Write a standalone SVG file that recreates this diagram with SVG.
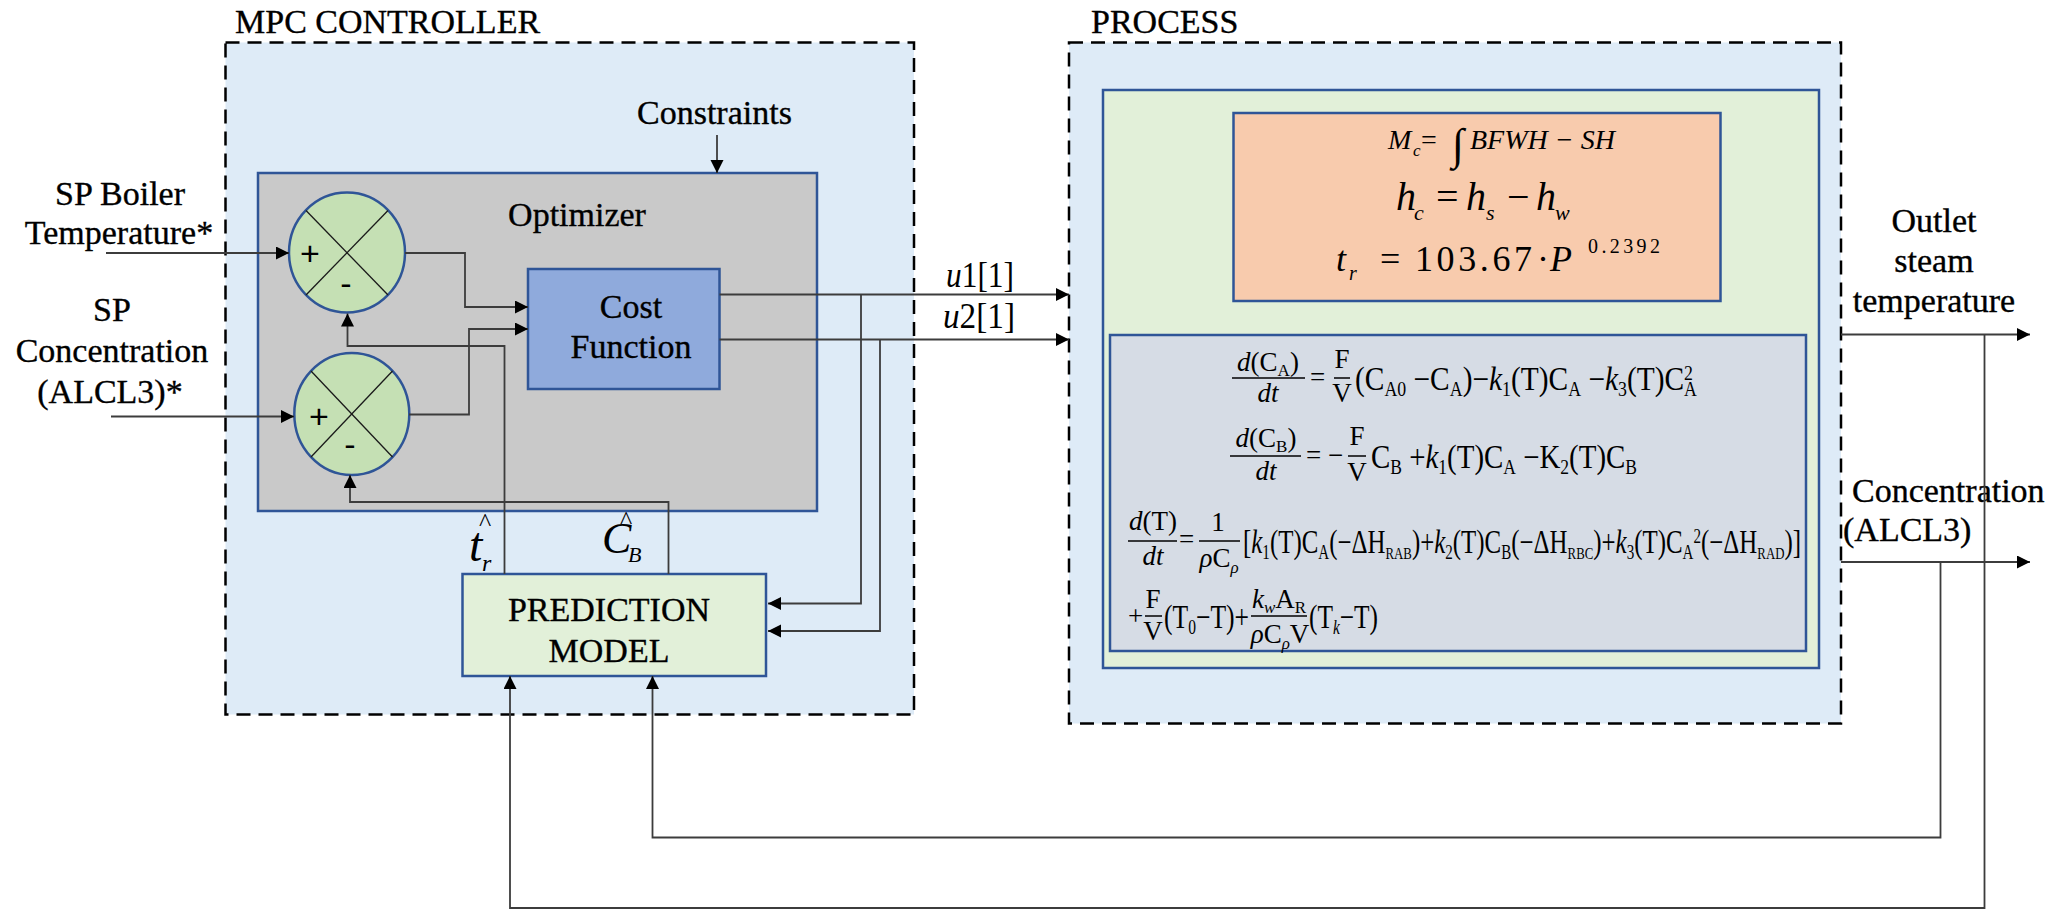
<svg xmlns="http://www.w3.org/2000/svg" width="2062" height="910" viewBox="0 0 2062 910" font-family="'Liberation Serif', 'Times New Roman', serif">
<defs>
<marker id="arr" markerUnits="userSpaceOnUse" markerWidth="14" markerHeight="14" refX="13" refY="6.5" orient="auto"><path d="M0,0 L13,6.5 L0,13 z" fill="#000"/></marker>
<style>
text{font-family:"Liberation Serif","Times New Roman",serif;fill:#000}
.lbl{font-size:34px;stroke:#000;stroke-width:0.35}
.ctr{text-anchor:middle}
.it{font-style:italic}
.up{font-style:normal}
.dash{fill:#deebf7;stroke:#000;stroke-width:2.5;stroke-dasharray:14 8}
.box{stroke:#2f5597;stroke-width:2.5}
.sum{fill:#c5e0b4;stroke:#2f5597;stroke-width:2.5}
.x{stroke:#1a1a1a;stroke-width:1.3}
text.sg{font-family:"Liberation Sans",Arial,sans-serif;font-size:34px;text-anchor:middle}
.conn{fill:none;stroke:#3c3c3c;stroke-width:1.8}
.bar{stroke:#000;stroke-width:1.5}
.eq{font-size:33px}
.fr{font-size:27px}
</style>
</defs>
<rect width="2062" height="910" fill="#fff"/>

<g id="mpc-controller">
<rect class="dash" x="225.5" y="42.5" width="688.5" height="672"/>
<text class="lbl" x="235" y="33" font-size="33">MPC CONTROLLER</text>
</g>

<g id="optimizer">
<rect class="box" x="258" y="173" width="559" height="338" fill="#c9c9c9"/>
<text class="lbl ctr" x="577" y="226">Optimizer</text>
</g>

<g id="constraints">
<text class="lbl" x="637" y="124">Constraints</text>
</g>

<g id="sum1">
<ellipse class="sum" cx="347" cy="252.5" rx="58" ry="60"/>
<line class="x" x1="306" y1="210.5" x2="388" y2="295"/>
<line class="x" x1="388" y1="210.5" x2="306" y2="295"/>
<text class="sg" x="310" y="265">+</text>
<text class="sg" x="346" y="295">-</text>
</g>

<g id="sum2">
<ellipse class="sum" cx="351.8" cy="414" rx="57.5" ry="61"/>
<line class="x" x1="311" y1="371" x2="392.5" y2="457"/>
<line class="x" x1="392.5" y1="371" x2="311" y2="457"/>
<text class="sg" x="319" y="428">+</text>
<text class="sg" x="350" y="456">-</text>
</g>

<g id="sp-boiler">
<text class="lbl ctr" x="120" y="205">SP Boiler</text>
<text class="lbl ctr" x="119" y="244">Temperature*</text>
</g>

<g id="sp-concentration">
<text class="lbl ctr" x="112" y="321">SP</text>
<text class="lbl ctr" x="112" y="362">Concentration</text>
<text class="lbl ctr" x="110" y="403">(ALCL3)*</text>
</g>

<g id="cost-function">
<rect class="box" x="528" y="269" width="191.5" height="120" fill="#8faadc"/>
<text class="lbl ctr" x="631" y="318">Cost</text>
<text class="lbl ctr" x="631" y="358">Function</text>
</g>

<g id="prediction-model">
<rect class="box" x="462.5" y="574" width="303.5" height="102" fill="#e2f0d9"/>
<text class="lbl ctr" x="609" y="621">PREDICTION</text>
<text class="lbl ctr" x="609" y="662">MODEL</text>
</g>

<g id="tr-hat">
<text><tspan x="479" y="531" font-size="26">^</tspan><tspan class="it" x="469" y="561" font-size="48">t</tspan><tspan class="it" x="482" y="571" font-size="24">r</tspan></text>
</g>

<g id="cb-hat">
<text><tspan x="620" y="529" font-size="26">^</tspan><tspan class="it" x="602" y="553" font-size="44">C</tspan><tspan class="it" x="628" y="562" font-size="22">B</tspan></text>
</g>

<g id="u-labels">
<text x="946" y="287" font-size="35" textLength="68" lengthAdjust="spacingAndGlyphs"><tspan class="it">u</tspan>1[1]</text>
<text x="943" y="328" font-size="35" textLength="72" lengthAdjust="spacingAndGlyphs"><tspan class="it">u</tspan>2[1]</text>
</g>

<g id="process">
<rect class="dash" x="1069" y="42.5" width="772" height="681"/>
<text class="lbl" x="1091" y="33" font-size="33">PROCESS</text>
<rect class="box" x="1103" y="90" width="716" height="578" fill="#e2f0d9"/>
</g>

<g id="boiler-equations">
<rect class="box" x="1233.5" y="113" width="487" height="188" fill="#f8cbad"/>
<text class="it" font-size="28"><tspan x="1388" y="149">M</tspan><tspan x="1413" y="156" font-size="17">c</tspan><tspan class="up" x="1421" y="149">=</tspan><tspan class="up" x="1452" y="159" font-size="44">∫</tspan><tspan x="1470" y="149">BFWH − SH</tspan></text>
<text class="it" font-size="40"><tspan x="1396" y="210">h</tspan><tspan x="1414" y="220" font-size="22">c</tspan><tspan class="up" x="1436" y="210">=</tspan><tspan x="1466" y="210">h</tspan><tspan x="1486" y="220" font-size="22">s</tspan><tspan class="up" x="1507" y="210">−</tspan><tspan x="1536" y="210">h</tspan><tspan x="1555" y="220" font-size="22">w</tspan></text>
<text font-size="36"><tspan class="it" x="1336" y="271">t</tspan><tspan class="it" x="1349" y="280" font-size="20">r</tspan><tspan x="1380" y="271">=</tspan><tspan x="1415" y="271" letter-spacing="3.6">103.67</tspan><tspan x="1537" y="271">·</tspan><tspan class="it" x="1550" y="271">P</tspan><tspan x="1588" y="253" font-size="20" letter-spacing="3.4">0.2392</tspan></text>
</g>

<g id="reactor-equations">
<rect class="box" x="1110" y="335" width="696" height="316" fill="#d6dce5"/>
<!-- eq 1 -->
<text class="fr ctr" x="1268" y="371"><tspan class="it">d</tspan>(C<tspan font-size="17" dy="5">A</tspan><tspan dy="-5">)</tspan></text>
<line class="bar" x1="1232" y1="378" x2="1305" y2="378"/>
<text class="fr ctr it" x="1268" y="402">dt</text>
<text class="fr" x="1310" y="386">=</text>
<text class="fr ctr" x="1342" y="368">F</text>
<line class="bar" x1="1334" y1="378" x2="1350" y2="378"/>
<text class="fr ctr" x="1342" y="402">V</text>
<text class="eq" x="1355" y="390" textLength="342" lengthAdjust="spacingAndGlyphs">(C<tspan font-size="20" dy="6">A0</tspan><tspan dy="-6"> −C</tspan><tspan font-size="20" dy="6">A</tspan><tspan dy="-6">)−</tspan><tspan class="it">k</tspan><tspan font-size="20" dy="6">1</tspan><tspan dy="-6">(T)C</tspan><tspan font-size="20" dy="6">A</tspan><tspan dy="-6"> −</tspan><tspan class="it">k</tspan><tspan font-size="20" dy="6">3</tspan><tspan dy="-6">(T)C</tspan><tspan font-size="20" dy="-10">2</tspan><tspan font-size="20" dx="-10" dy="16">A</tspan></text>
<!-- eq 2 -->
<text class="fr ctr" x="1266" y="447"><tspan class="it">d</tspan>(C<tspan font-size="17" dy="5">B</tspan><tspan dy="-5">)</tspan></text>
<line class="bar" x1="1230" y1="456" x2="1301" y2="456"/>
<text class="fr ctr it" x="1266" y="480">dt</text>
<text class="fr" x="1306" y="464">= −</text>
<text class="fr ctr" x="1357" y="445">F</text>
<line class="bar" x1="1348" y1="456" x2="1366" y2="456"/>
<text class="fr ctr" x="1357" y="481">V</text>
<text class="eq" x="1371" y="468" textLength="266" lengthAdjust="spacingAndGlyphs">C<tspan font-size="20" dy="6">B</tspan><tspan dy="-6"> +</tspan><tspan class="it">k</tspan><tspan font-size="20" dy="6">1</tspan><tspan dy="-6">(T)C</tspan><tspan font-size="20" dy="6">A</tspan><tspan dy="-6"> −K</tspan><tspan font-size="20" dy="6">2</tspan><tspan dy="-6">(T)C</tspan><tspan font-size="20" dy="6">B</tspan></text>
<!-- eq 3 -->
<text class="fr ctr" x="1153" y="530"><tspan class="it">d</tspan>(T)</text>
<line class="bar" x1="1128" y1="541" x2="1177" y2="541"/>
<text class="fr ctr it" x="1153" y="565">dt</text>
<text class="fr" x="1179" y="548">=</text>
<text class="fr ctr" x="1218" y="531">1</text>
<line class="bar" x1="1199" y1="541" x2="1240" y2="541"/>
<text class="fr ctr" x="1219" y="567"><tspan class="it">ρ</tspan>C<tspan font-size="17" dy="6" class="it">ρ</tspan></text>
<text class="eq" x="1243" y="553" textLength="558" lengthAdjust="spacingAndGlyphs">[<tspan class="it">k</tspan><tspan font-size="20" dy="6">1</tspan><tspan dy="-6">(T)C</tspan><tspan font-size="20" dy="6">A</tspan><tspan dy="-6">(−ΔH</tspan><tspan font-size="17" dy="6">RAB</tspan><tspan dy="-6">)+</tspan><tspan class="it">k</tspan><tspan font-size="20" dy="6">2</tspan><tspan dy="-6">(T)C</tspan><tspan font-size="20" dy="6">B</tspan><tspan dy="-6">(−ΔH</tspan><tspan font-size="17" dy="6">RBC</tspan><tspan dy="-6">)+</tspan><tspan class="it">k</tspan><tspan font-size="20" dy="6">3</tspan><tspan dy="-6">(T)C</tspan><tspan font-size="20" dy="6">A</tspan><tspan font-size="20" dy="-16">2</tspan><tspan dy="10">(−ΔH</tspan><tspan font-size="17" dy="6">RAD</tspan><tspan dy="-6">)]</tspan></text>
<!-- eq 4 -->
<text class="fr" x="1128" y="625">+</text>
<text class="fr ctr" x="1153" y="608">F</text>
<line class="bar" x1="1145" y1="616" x2="1162" y2="616"/>
<text class="fr ctr" x="1153" y="640">V</text>
<text class="eq" x="1164" y="628" textLength="85" lengthAdjust="spacingAndGlyphs">(T<tspan font-size="20" dy="6">0</tspan><tspan dy="-6">−T)+</tspan></text>
<text class="fr ctr" x="1279" y="608"><tspan class="it">k</tspan><tspan font-size="17" dy="5" class="it">w</tspan><tspan dy="-5">A</tspan><tspan font-size="17" dy="5">R</tspan></text>
<line class="bar" x1="1251" y1="616" x2="1307" y2="616"/>
<text class="fr ctr" x="1280" y="643"><tspan class="it">ρ</tspan>C<tspan font-size="17" dy="6" class="it">ρ</tspan><tspan dy="-6">V</tspan></text>
<text class="eq" x="1309" y="628" textLength="69" lengthAdjust="spacingAndGlyphs">(T<tspan font-size="20" dy="6" class="it">k</tspan><tspan dy="-6">−T)</tspan></text>
</g>

<g id="outlet-steam-temperature">
<text class="lbl ctr" x="1934" y="232">Outlet</text>
<text class="lbl ctr" x="1934" y="272">steam</text>
<text class="lbl ctr" x="1934" y="312">temperature</text>
</g>

<g id="concentration-out">
<text class="lbl" x="1852" y="502">Concentration</text>
<text class="lbl" x="1843" y="541">(ALCL3)</text>
</g>

<g id="connectors">
<path class="conn" d="M106 253 H289" marker-end="url(#arr)"/>
<path class="conn" d="M111 416.5 H294" marker-end="url(#arr)"/>
<path class="conn" d="M405 253 H465 V307 H528" marker-end="url(#arr)"/>
<path class="conn" d="M409 414.5 H469 V329 H528" marker-end="url(#arr)"/>
<path class="conn" d="M717 135 V173" marker-end="url(#arr)"/>
<path class="conn" d="M719.5 294.5 H1069" marker-end="url(#arr)"/>
<path class="conn" d="M719.5 339.5 H1069" marker-end="url(#arr)"/>
<path class="conn" d="M861 294.5 V603.5 H768" marker-end="url(#arr)"/>
<path class="conn" d="M880 339.5 V631 H768" marker-end="url(#arr)"/>
<path class="conn" d="M504.5 574 V346 H347.5 V313.5" marker-end="url(#arr)"/>
<path class="conn" d="M668.5 574 V502 H350 V475" marker-end="url(#arr)"/>
<path class="conn" d="M1841 334.5 H2030" marker-end="url(#arr)"/>
<path class="conn" d="M1841 562 H2030" marker-end="url(#arr)"/>
<path class="conn" d="M1984.5 334.5 V908 H510 V676" marker-end="url(#arr)"/>
<path class="conn" d="M1940.5 562 V837.5 H652.5 V676" marker-end="url(#arr)"/>
</g>
</svg>
